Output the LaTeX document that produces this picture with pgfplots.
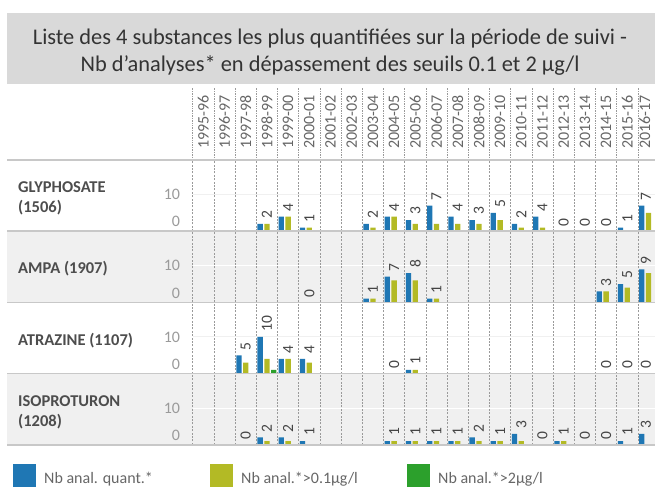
\documentclass[border=0pt]{standalone}
\usepackage{pgfplots}
\pgfplotsset{compat=1.18}
\usepackage{pgfplotstable}
\usepackage{fontspec}
\setmainfont{Carlito}
\definecolor{cblue}{HTML}{1F77B4}
\definecolor{colive}{HTML}{B3BA25}
\definecolor{cgreen}{HTML}{2CA02C}
\definecolor{titlebg}{HTML}{D9D9D9}
\definecolor{rowgray}{HTML}{F0F0F0}
\definecolor{sepc}{HTML}{C8C8C8}
\definecolor{gridc}{HTML}{9A9A9A}
\definecolor{tickc}{HTML}{9A9A9A}
\definecolor{labc}{HTML}{4D4D4D}
\definecolor{yearc}{HTML}{666666}
\definecolor{valc}{HTML}{444444}

% columns: 0 = 1995-96 ... 21 = 2016-17 ; q = Nb anal. quant., o = >0.1, g = >2
\pgfplotstableread{
x q o g
3 2 2 0
4 4 4 0
5 1 1 0
8 2 1 0
9 4 4 0
10 3 2 0
11 7 2 0
12 4 2 0
13 3 2 0
14 5 3 0
15 2 1 0
16 4 1 0
17 0 0 0
18 0 0 0
19 0 0 0
20 1 0 0
21 7 5 0
}\glyTab
\pgfplotstableread{
x q o g
5 0 0 0
8 1 1 0
9 7 6 0
10 8 6 0
11 1 1 0
19 3 3 0
20 5 4 0
21 9 8 0
}\ampaTab
\pgfplotstableread{
x q o g
2 5 3 0
3 10 4 1
4 4 4 0
5 4 3 0
9 0 0 0
10 1 1 0
19 0 0 0
20 0 0 0
21 0 0 0
}\atrTab
\pgfplotstableread{
x q o g
2 0 0 0
3 2 1 0
4 2 1 0
5 1 0 0
9 1 1 0
10 1 1 0
11 1 1 0
12 1 1 0
13 2 1 0
14 1 1 0
15 3 1 0
16 0 0 0
17 1 1 0
18 0 0 0
19 0 0 0
20 1 0 0
21 3 0 0
}\isoTab

\pgfplotsset{
  /pgf/number format/assume math mode=true,
  rowaxis/.style={
    anchor=south west,
    width=462.3pt, height=71.2pt, scale only axis,
    xmin=-0.5, xmax=21.307, ymin=0, ymax=19.4,
    clip=false,
    axis line style={draw=none},
    major tick length=0pt,
    xtick={-0.5,0.5,...,20.5}, xticklabels={},
    xmajorgrids,
    x grid style={gridc, dash pattern=on 2pt off 1.4pt, line width=0.8pt},
    ytick={10}, ymajorgrids,
    y grid style={black!6, line width=1pt},
    yticklabel style={font=\fontsize{16}{16}\selectfont, text=tickc, inner sep=0pt, xshift=-12.5pt},
    extra y ticks={0},
    extra y tick style={grid=none, yticklabel style={yshift=9.5pt}},
  },
  qbar/.style={ybar, bar width=5.3pt, bar shift=-6.8pt, fill=cblue, draw=none},
  obar/.style={ybar, bar width=5.3pt, bar shift=0pt, fill=colive, draw=none},
  gbar/.style={ybar, bar width=5.3pt, bar shift=6.8pt, fill=cgreen, draw=none},
  vlab/.style={draw=none, mark=none, nodes near coords,
    every node near coord/.append style={yshift=5pt, rotate=90, anchor=west, inner sep=0pt,
      font=\fontsize{15.5}{15.5}\selectfont, text=valc}},
}

\begin{document}
\begin{tikzpicture}
\useasboundingbox (0pt,0pt) rectangle (655pt,-500pt);
% title
\fill[titlebg] (7pt,-13pt) rectangle (655pt,-84pt);
\node[align=center, text=black!80, font=\fontsize{22.4}{26.4}\selectfont] at (330pt,-52pt)
  {Liste des 4 substances les plus quantifiées sur la période de suivi -\\Nb d’analyses* en dépassement des seuils 0.1 et 2 µg/l};
% row backgrounds
\fill[rowgray] (7pt,-231.2pt) rectangle (655pt,-302.4pt);
\fill[rowgray] (7pt,-373.6pt) rectangle (655pt,-444.8pt);

% header axis
\begin{axis}[
  at={(192.7pt,-158pt)}, anchor=south west,
  width=462.3pt, height=70pt, scale only axis,
  xmin=-0.5, xmax=21.307, ymin=0, ymax=1,
  axis line style={draw=none}, major tick length=0pt,
  ytick=\empty,
  xtick={0,1,2,3,4,5,6,7,8,9,10,11,12,13,14,15,16,17,18,19,20,20.83},
  xticklabels={1995-96,1996-97,1997-98,1998-99,1999-00,2000-01,2001-02,2002-03,2003-04,2004-05,2005-06,2006-07,2007-08,2008-09,2009-10,2010-11,2011-12,2012-13,2013-14,2014-15,2015-16,2016-17},
  xticklabel style={yshift=9pt, rotate=90, anchor=west, inner sep=0pt,
    font=\fontsize{16}{16}\selectfont, text=yearc},
  extra x ticks={-0.5,0.5,...,20.5},
  extra x tick labels={},
  extra x tick style={grid=major, major grid style={gridc, dash pattern=on 0.8pt off 0.9pt, line width=0.8pt}},
]
\addplot[draw=none, mark=none] coordinates {(0,0)};
\end{axis}

% GLYPHOSATE
\begin{axis}[rowaxis, at={(192.7pt,-231.2pt)}]
\addplot[qbar] table[x=x,y=q]{\glyTab};
\addplot[obar] table[x=x,y=o]{\glyTab};
\addplot[gbar] table[x=x,y=g]{\glyTab};
\addplot[vlab] table[x expr={\thisrow{x}>20.5 ? 20.88 : \thisrow{x}}, y=q]{\glyTab};
\end{axis}
% AMPA
\begin{axis}[rowaxis, at={(192.7pt,-302.4pt)}, y grid style={white, line width=1pt}]
\addplot[qbar] table[x=x,y=q]{\ampaTab};
\addplot[obar] table[x=x,y=o]{\ampaTab};
\addplot[gbar] table[x=x,y=g]{\ampaTab};
\addplot[vlab] table[x expr={\thisrow{x}>20.5 ? 20.88 : \thisrow{x}}, y=q]{\ampaTab};
\end{axis}
% ATRAZINE
\begin{axis}[rowaxis, at={(192.7pt,-373.6pt)}]
\addplot[qbar] table[x=x,y=q]{\atrTab};
\addplot[obar] table[x=x,y=o]{\atrTab};
\addplot[gbar] table[x=x,y=g]{\atrTab};
\addplot[vlab] table[x expr={\thisrow{x}>20.5 ? 20.88 : \thisrow{x}}, y=q]{\atrTab};
\end{axis}
% ISOPROTURON
\begin{axis}[rowaxis, at={(192.7pt,-444.8pt)}, y grid style={white, line width=1pt}]
\addplot[qbar] table[x=x,y=q]{\isoTab};
\addplot[obar] table[x=x,y=o]{\isoTab};
\addplot[gbar] table[x=x,y=g]{\isoTab};
\addplot[vlab] table[x expr={\thisrow{x}>20.5 ? 20.88 : \thisrow{x}}, y=q]{\isoTab};
\end{axis}

% row separators
\foreach \yy in {160,231.2,302.4,373.6,444.8}
  \draw[sepc, line width=1.5pt] (7pt,-\yy pt) -- (655pt,-\yy pt);

% row labels
\begin{scope}[every node/.style={anchor=west, align=left, text=labc, inner sep=0pt,
    font=\bfseries\fontsize{16.5}{20}\selectfont}]
\node at (18pt,-198pt) {GLYPHOSATE\\(1506)};
\node at (18pt,-269pt) {AMPA (1907)};
\node at (18pt,-341pt) {ATRAZINE (1107)};
\node at (18pt,-412pt) {ISOPROTURON\\(1208)};
\end{scope}

% legend
\begin{scope}[every node/.style={anchor=base west, inner sep=0pt, text=yearc,
    font=\fontsize{16}{16}\selectfont}]
\fill[cblue] (13.3pt,-464pt) rectangle (35.7pt,-486.7pt);
\node at (44pt,-483pt) {Nb anal. quant.*};
\fill[colive] (210.3pt,-464pt) rectangle (232.7pt,-486.7pt);
\node at (241pt,-483pt) {Nb anal.*>0.1µg/l};
\fill[cgreen] (407.3pt,-464pt) rectangle (429.7pt,-486.7pt);
\node at (438pt,-483pt) {Nb anal.*>2µg/l};
\end{scope}
\end{tikzpicture}
\end{document}
